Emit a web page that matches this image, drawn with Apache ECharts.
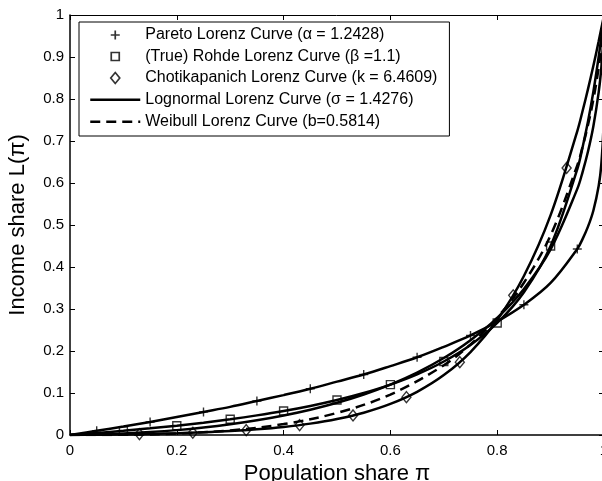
<!DOCTYPE html>
<html>
<head>
<meta charset="utf-8">
<script src="https://cdn.jsdelivr.net/npm/echarts@6/dist/echarts.min.js"></script>
<style>
html,body{margin:0;padding:0;background:#fff;}
#chart{width:602px;height:481px;}
</style>
</head>
<body>
<div id="chart"></div>
<script>
// ---- data ----
const curveX = [0,0.05,0.1,0.15,0.2,0.25,0.3,0.35,0.4,0.45,0.5,0.55,0.6,0.65,0.7,0.75,0.8,0.85,0.9,0.95,0.96,0.97,0.98,0.99,0.995,0.999,1];
const paretoY = [0,0.010,0.020,0.031,0.043,0.055,0.067,0.081,0.095,0.110,0.127,0.144,0.164,0.185,0.210,0.237,0.270,0.310,0.362,0.443,0.467,0.496,0.534,0.593,0.645,0.741,1];
const rohdeY = [0,0.0048,0.010,0.0158,0.0222,0.0294,0.0375,0.0467,0.0571,0.0692,0.0833,0.100,0.120,0.1444,0.175,0.2143,0.2667,0.340,0.450,0.6333,0.6857,0.7462,0.8167,0.900,0.9476,0.9891,1];
const lognormalY = [0,0.0011,0.0034,0.0069,0.0116,0.0178,0.0255,0.0349,0.0464,0.0602,0.0767,0.0965,0.1201,0.1486,0.1832,0.2257,0.2789,0.3478,0.4420,0.5860,0.6267,0.6748,0.7344,0.8156,0.8746,0.9518,1];
const chotiY = [0,0.0006,0.0014,0.0026,0.0041,0.0063,0.0093,0.0135,0.0192,0.0271,0.0380,0.0531,0.0740,0.1028,0.1426,0.1976,0.2736,0.3785,0.5234,0.7236,0.7720,0.8235,0.8786,0.9374,0.9682,0.9926,1];
const weibullX = [0,0.1,0.2,0.3,0.4,0.5,0.6,0.7,0.75,0.8,0.85,0.9,0.95,0.96,0.97,0.98,0.99,0.995,0.999,1];
const weibullY = [0,0.0005,0.0034,0.011,0.026,0.0526,0.0963,0.166,0.2157,0.2793,0.3625,0.4756,0.6421,0.6868,0.7379,0.7981,0.8742,0.9233,0.9774,1];

const paretoMarkX = [0.05,0.15,0.25,0.35,0.45,0.55,0.65,0.75,0.85,0.95];
const paretoMarkY = [0.010,0.031,0.055,0.081,0.110,0.144,0.185,0.237,0.310,0.443];
const rohdeMarkX = [0.1,0.2,0.3,0.4,0.5,0.6,0.7,0.8,0.9];
const rohdeMarkY = [0.010,0.0222,0.0375,0.0571,0.0833,0.120,0.175,0.2667,0.450];
const chotiMarkX = [0.13,0.23,0.33,0.43,0.53,0.63,0.73,0.83,0.93];
const chotiMarkY = [0.0021,0.0054,0.0116,0.0236,0.0465,0.0901,0.1734,0.3325,0.6358];

const legendNames = [
  'Pareto Lorenz Curve (α = 1.2428)',
  '(True) Rohde Lorenz Curve (β =1.1)',
  'Chotikapanich Lorenz Curve (k = 6.4609)',
  'Lognormal Lorenz Curve (σ = 1.4276)',
  'Weibull Lorenz Curve (b=0.5814)'
];
const xTitle = 'Population share π';
const yTitle = 'Income share L(π)';

// ---- symbols ----
const plusSym = 'path://M0,0M14,14M7,2.5L7,11.5M2.5,7L11.5,7';
const squareSym = 'path://M0,0M14,14M3,3L11,3L11,11L3,11Z';
const diamondSym = 'path://M0,0M14,14M7,1.5L11.5,7L7,12.5L2.5,7Z';
const lineIcon = 'path://M0,0M50,14M0,7L50,7';

function pairs(xs, ys) { return xs.map((x, i) => [x, ys[i]]); }

const FONT = '"Liberation Sans", Arial, Helvetica, sans-serif';

function curve(name, xs, ys, dashed) {
  return {
    name: name, type: 'line', data: pairs(xs, ys),
    symbol: 'none', showSymbol: false, smooth: 0.35,
    lineStyle: { color: '#000', width: 2.5, type: dashed ? [10, 6] : 'solid' },
    itemStyle: { color: '#000' },
    silent: true, z: 2
  };
}
function marks(name, xs, ys, sym) {
  return {
    name: name, type: 'scatter', data: pairs(xs, ys),
    symbol: sym, symbolSize: 14,
    itemStyle: { color: 'rgba(0,0,0,0)', borderColor: '#000', borderWidth: 1.4 },
    silent: true, z: 3
  };
}

const chart = echarts.init(document.getElementById('chart'), null, { renderer: 'canvas' });
const axisCommon = {
  type: 'value', min: 0, max: 1,
  axisLine: { show: true, onZero: false, lineStyle: { color: '#000', width: 1.5 } },
  axisTick: { show: true, inside: true, length: 5, lineStyle: { color: '#000', width: 1 } },
  splitLine: { show: false }
};
chart.setOption({
  animation: false,
  backgroundColor: '#fff',
  grid: { left: 70, right: -2, top: 15, bottom: 46, outerBoundsMode: 'none', containLabel: false },
  legend: {
    orient: 'vertical', left: 79, top: 22,
    padding: [5, 12, 6, 10],
    itemWidth: 50, itemHeight: 14, itemGap: 5.5,
    backgroundColor: '#fff', borderColor: '#000', borderWidth: 1, borderRadius: 0,
    textStyle: { fontFamily: FONT, fontSize: 16, color: '#000' },
    itemStyle: { borderWidth: 1.7 },
    selectedMode: false,
    data: [
      { name: legendNames[0], icon: plusSym },
      { name: legendNames[1], icon: squareSym },
      { name: legendNames[2], icon: diamondSym },
      { name: legendNames[3], icon: lineIcon,
        itemStyle: { color: 'rgba(0,0,0,0)', borderColor: '#000', borderWidth: 2.5, borderType: 'solid' } },
      { name: legendNames[4], icon: lineIcon,
        itemStyle: { color: 'rgba(0,0,0,0)', borderColor: '#000', borderWidth: 2.5, borderType: [10, 6] } }
    ]
  },
  xAxis: [
    Object.assign({}, axisCommon, {
      position: 'bottom', interval: 0.2,
      axisLabel: { show: true, margin: 8, fontFamily: FONT, fontSize: 15, color: '#000' },
      name: xTitle, nameLocation: 'middle', nameGap: 22,
      nameTextStyle: { fontFamily: FONT, fontSize: 22, color: '#000' }
    }),
    Object.assign({}, axisCommon, {
      position: 'top', interval: 0.2,
      axisLine: { show: true, onZero: false, lineStyle: { color: '#000', width: 1 } },
      axisLabel: { show: false }
    })
  ],
  yAxis: [
    Object.assign({}, axisCommon, {
      position: 'left', interval: 0.1,
      axisLabel: { show: true, margin: 6, fontFamily: FONT, fontSize: 15, color: '#000' },
      name: yTitle, nameLocation: 'middle', nameGap: 41, nameRotate: 90,
      nameTextStyle: { fontFamily: FONT, fontSize: 22, color: '#000' }
    }),
    Object.assign({}, axisCommon, {
      position: 'right', interval: 0.1,
      axisLabel: { show: false }
    })
  ],
  series: [
    curve('Pareto curve', curveX, paretoY, false),
    curve('Rohde curve', curveX, rohdeY, false),
    curve('Chotikapanich curve', curveX, chotiY, false),
    curve(legendNames[3], curveX, lognormalY, false),
    curve(legendNames[4], weibullX, weibullY, true),
    marks(legendNames[0], paretoMarkX, paretoMarkY, plusSym),
    marks(legendNames[1], rohdeMarkX, rohdeMarkY, squareSym),
    marks(legendNames[2], chotiMarkX, chotiMarkY, diamondSym)
  ]
});
</script>
</body>
</html>
